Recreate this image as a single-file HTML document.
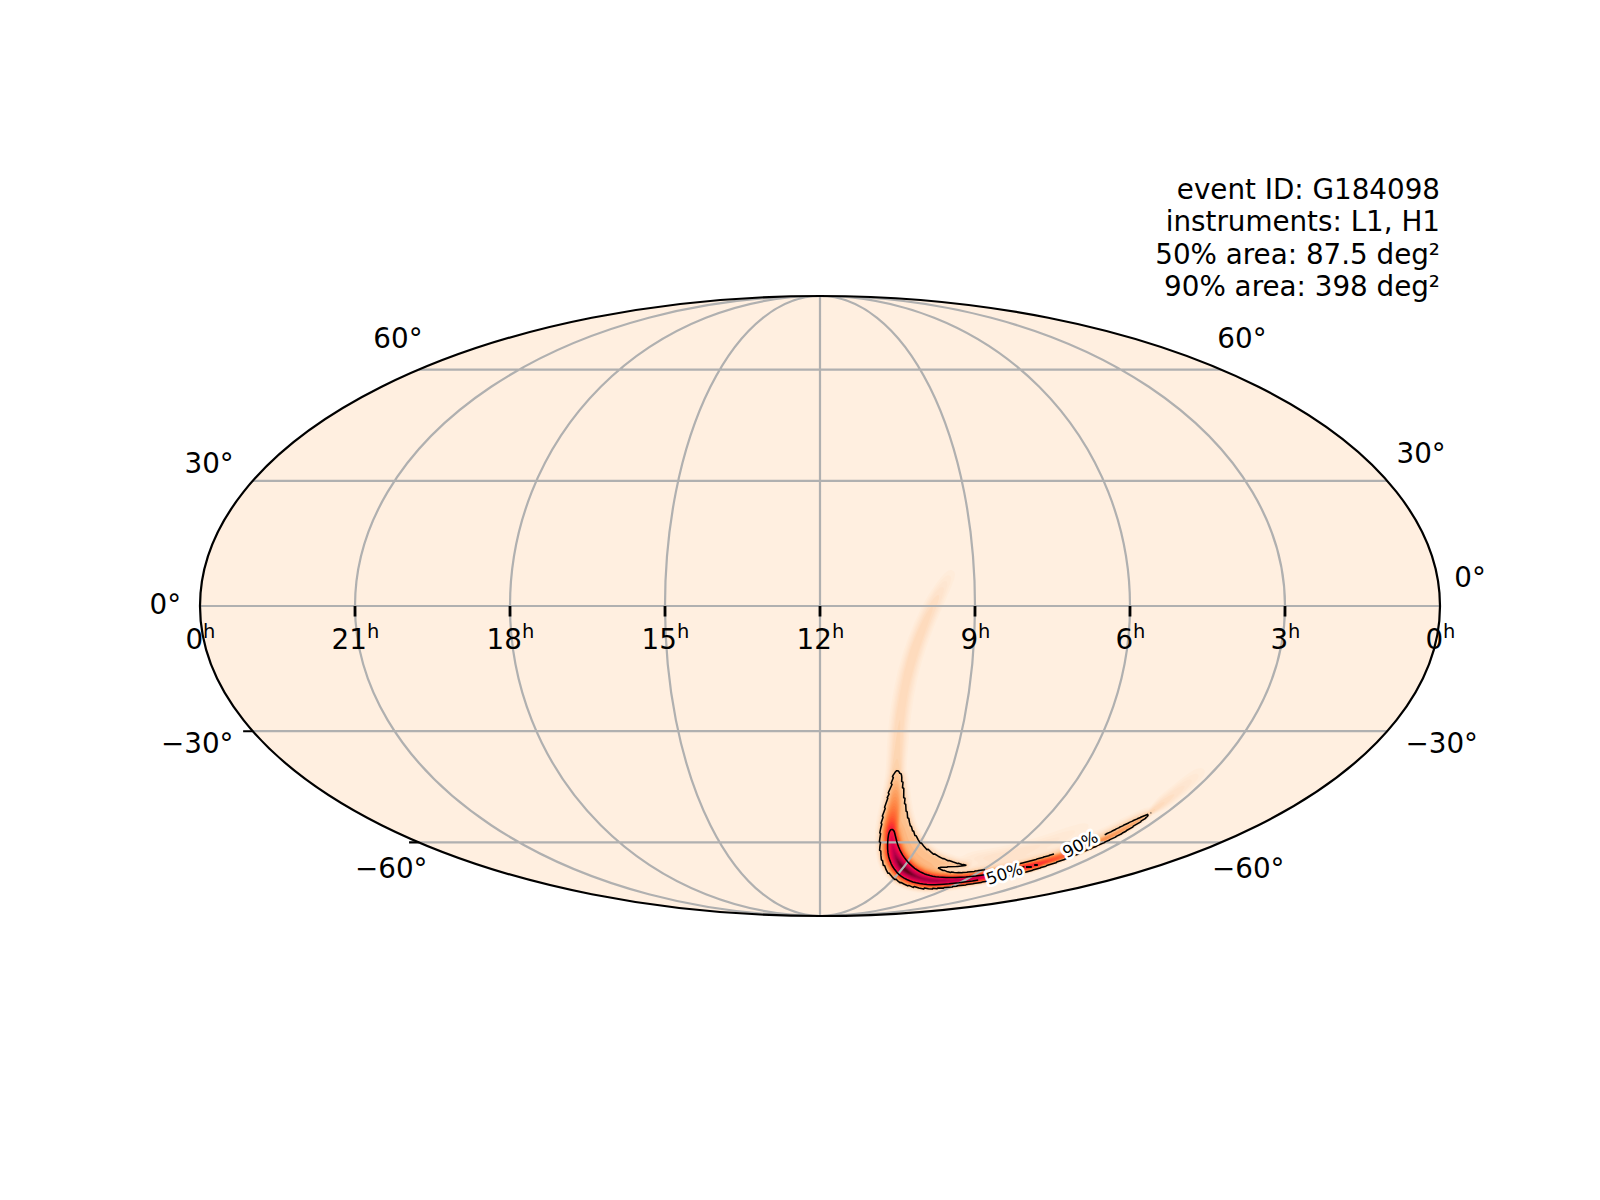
<!DOCTYPE html>
<html><head><meta charset="utf-8"><title>G184098 sky map</title>
<style>
html,body{margin:0;padding:0;background:#fff;}
svg{display:block;font-family:"DejaVu Sans","Liberation Sans",sans-serif;}
</style></head><body>
<svg width="1600" height="1200" viewBox="0 0 1600 1200">
<defs><clipPath id="clip"><ellipse cx="820.0" cy="606.0" rx="620.0" ry="310.0"/></clipPath></defs>
<rect width="1600" height="1200" fill="#fff"/>
<ellipse cx="820.0" cy="606.0" rx="620.0" ry="310.0" fill="#FFEFE0"/>
<g clip-path="url(#clip)"><g fill-rule="evenodd" stroke="none"><path fill="#ffecda" d="M877.1 861.2l-1 -5 -1.1 -9 -0.2 -13 0.5 -8 1.6 -9.4 5.9 -27.8 2.4 -14.2 0.7 -8 1.5 -29 2.1 -21 1.5 -11 2 -12 2.5 -12.6 2.5 -11 4.5 -16 5.5 -16 6.1 -15 7 -15 4 -7.4 4.4 -7.6 7.5 -11 4 -5 3.2 -3.5 2.6 -2.2 2.4 -1.3 1.6 -0.2 1.3 0.2 1.6 1 0.8 1 0.4 1 0.1 1.6 -0.6 4 -3.4 9 -15.8 36 -6 15.4 -3.4 10.1 -3.6 11.2 -3 10.8 -2.4 10.4 -3 15.3 -2.6 17.2 -1.4 14.1 -3 34.2 -0.2 7.3 1.4 4 0.9 4 2.7 22.4 1.6 9 2 8.2 3 8.2 2.6 5 2 3.4 3 4.1 5.4 5.5 6.8 4.6 6.9 3.6 9.7 3.4 4.2 1.2 1.4 0.2 2.9 -0.8 5.1 -2.9 5 -1.5 32.1 -5.6 8.7 -2 15 -4 13.4 -4 27.4 -9.3 10 -2.7 5 -0.5 2 0.4 1 0.5 0.5 0.6 0.3 1 -0.3 1.4 -1.1 2 -2.1 3 -0.3 1 0.4 0.3 1 0.1 3.6 -0.9 6 -2 6.2 -2.5 21.8 -10.8 11.4 -5.4 9.6 -3.9 4.4 -0.9 2 -1.8 6 -7 3 -2.9 22 -17.6 6 -4.4 5.6 -3.4 4 -1.7 3 -0.5 1.4 0.3 1 0.5 1.1 1.1 0.5 1 0.1 2 -0.8 2 -1.6 2.4 -2.4 3 -8.3 8.2 -12 10.1 -12.6 9.4 -3 1.7 -8.7 4.2 -3.6 2 -1.5 1 -2.6 2.7 -2.6 2 -15 10 -10.4 6.1 -16 8 -25 10.9 -12.6 5 -18 6.5 -24.4 7.5 -31.6 8 -17.4 3.5 -24 4.3 -8.6 1.3 -4 0.2 -3.4 0.6 -10 0.1 -3 -0.4 -3.6 -0.2 -9.4 -1.9 -6 -2 -8 -4 -5 -3.6 -3.8 -3.6 -3.4 -4.6 -2.1 -3.4 -1.5 -3z"/><path fill="#ffe9d5" d="M877.6 859.2l-1.1 -6.4 -0.1 -3 -0.5 -3 0 -10.6 0.7 -9.4 1.4 -9 5.2 -24.7 3 -15.9 1 -9 1.8 -31 2.1 -20 1.5 -11 2 -12 2.4 -12.4 2.4 -10.6 4.6 -16.4 4.9 -14.6 6 -15 6.7 -14.4 6.8 -12.6 6.5 -10 4.3 -5.4 3 -3.5 2.6 -2.3 2.4 -1.5 1 -0.2 1 0.2 1 0.6 0.6 0.7 0.2 1 0.1 1.4 -0.8 4 -3.9 10.6 -12.6 29.5 -6.6 16.8 -3.4 10.2 -3.6 11.4 -2.4 9 -2.6 10.2 -3 15.1 -2.4 17 -1.6 13.8 -2.6 32.4 -0.3 11 1.6 4.6 0.6 3 2.7 22.7 1.6 8.6 2 8.1 3 8.6 3 5.9 2 3.4 3 4 5.7 5.7 6.7 4.6 7.6 3.8 10 3.5 4 1.2 2 0.2 2 -0.1 3.6 -0.8 7.5 -3 3.3 -0.9 27 -5.1 11 -2.4 22 -5.9 25.3 -7.7 7.7 -1.7 2.6 -0.2 1.4 0.1 0.7 0.4 0.3 0.4 0 0.6 -0.8 1.4 -1.4 1.6 -6 5 -1.4 1.4 0 0.6 0.6 0.1 2.6 -0.2 7.3 -1.9 10.7 -3.7 9.6 -3.9 5.8 -2.4 33 -16.3 9.6 -3.9 4 -1 2.3 -1.8 6.1 -6.6 3 -2.9 14.6 -11.3 9.4 -6.9 6 -3.6 4 -1.6 2.6 -0.1 1 0.4 0.7 1 0 1.6 -0.8 2 -1.8 2.4 -3.1 3.6 -8.9 8.4 -10.7 8.8 -8 5.9 -13.5 7.3 -1.9 1.5 -2.6 2.7 -3 2.2 -15 10 -9.4 5.5 -16 8 -25 10.9 -12.6 5 -18 6.5 -11 3.5 -13.4 4 -9.6 2.5 -22 5.4 -18 3.5 -23.4 4.1 -6.8 0.7 -2.2 0.5 -4 0.2 -3 0.5 -10 0.2 -3 -0.5 -3.6 -0.1 -9.4 -2 -5.6 -1.8 -8.4 -4.3 -4.6 -3.3 -3.8 -3.8 -2.3 -3 -2.5 -4 -2 -4z"/><path fill="#fee6d1" d="M935.8 589.6l5 -5.7 2 -1.8 1.4 -0.9 1.6 -0.2 1.1 0.8 0.5 1.4 -0.2 2.2 -1.1 4.4 -2.3 6.4 -12 28.9 -6.6 17.2 -6 18.7 -4.4 16.8 -3.6 17 -1.4 9.2 -1.6 11.5 -1.6 16.7 -1.8 24.2 -0.4 8.8 -0.1 5 1.7 4.6 0.6 3 2.2 19 1 6.4 2.1 10.6 1.3 4.8 3 8.1 2.6 5.1 2 3.4 3 4.1 6 6 7.1 4.9 7.3 3.8 5 1.9 5 1.6 5.6 1.5 2.4 0.2 6.6 -0.1 2.9 0.7 0.6 0.4 0.1 0.6 -0.5 4.4 0.2 0.6 0.7 0.1 1.1 -0.1 2.6 -1 0.9 -0.6 0.9 -1 -0.1 -0.4 -0.4 -0.6 -3.8 -2.4 -0.2 -0.6 0.4 -1 1.1 -1 3.5 -1.7 10 -2.5 23 -4.6 40.4 -10.2 6 -0.9 1.6 0.4 0 0.5 -1.1 1.6 -1.9 1.4 -8.5 5.6 -1.2 1 -0.3 0.4 0.4 0.5 2 0.1 2.6 -0.6 17.4 -4.8 18 -6.4 15 -6.2 33 -16.3 9.6 -4 4 -1.1 2.1 -1.6 7.3 -7.4 3.6 -2.9 15.4 -11.4 5 -3.3 4 -2.2 2 -0.8 1.6 -0.3 1 0.1 0.9 0.6 0.2 1 -0.3 1 -1.9 3 -3.6 4 -5.2 5 -6.4 5.6 -7.5 6 -4.2 2.7 -11 6.3 -2 1.4 -2.6 2.8 -2.4 1.9 -15 10 -10.6 6.1 -16 8 -24 10.5 -21.4 8.4 -20 6.7 -13.6 4 -10.4 2.8 -21.6 5.2 -18 3.4 -14 2.4 -14 2.2 -2.4 0.1 -2 0.5 -4 0.1 -3 0.5 -10 0.1 -3 -0.4 -3 -0.1 -6 -1.1 -4 -0.9 -5.6 -1.9 -7 -3.4 -5.4 -3.9 -4 -4 -3.3 -4.4 -3 -5.6 -1.6 -4.4 -1.2 -5.6 -0.6 -4 -0.1 -3 -0.4 -2 -0.1 -10.4 0.6 -7 0.9 -7 7.2 -35.3 2.5 -14.3 2.8 -39.4 1.5 -14.6 1.9 -14 3.1 -17.4 3.5 -16 4 -14.6 4.9 -15 6.1 -15.4 6.9 -15 6.6 -12 3.8 -6z"/><path fill="#fee3cc" d="M935.8 592.1l2 -2.3 2 -1.8 1.4 -0.8 1 -0.2 1 0.5 0.5 0.7 0.1 1.6 -0.3 2 -2.1 7 -11.6 28.5 -6 16.3 -6 18.9 -4.6 17.2 -3.4 17.5 -2.6 18 -1.7 17.6 -1.8 29.4 0 8.6 1.5 4 0.8 3.4 2.7 22.6 1.5 8.4 2.1 8.6 3 8.4 1.9 4.1 3 5.3 3 4.2 6 6 7.2 5 7.9 4 8.4 3 5.5 1.6 2.6 0.5 6 0.4 2 0.5 1 0.7 0.8 1.3 0.2 1.4 -0.4 2.6 0.4 0.5 3.4 -0.5 6.6 -1.5 6 -1.7 2.4 -1.4 0 -0.4 -4.7 -2 -1.3 -1 0 -0.6 0.7 -1 3.1 -1.4 7.1 -2 14.7 -2.9 17 -4.2 5.4 -1 5.6 -0.7 3 0.1 0.3 0.1 0.1 0.6 -1.4 1.4 -3.7 2.6 -8.8 5 -0.4 0.4 0.3 0.2 4.6 -0.6 10.2 -2 17.2 -5 18.5 -6 10.7 -4 14.4 -6.1 34 -16.7 9.4 -3.9 3.6 -1.2 2.2 -1.7 6.8 -6.2 3.4 -3 11 -7.7 6.6 -4 3.4 -1.5 1 -0.1 1 0.2 0.3 0.3 0.1 1 -0.8 1.6 -1.1 1.4 -2.7 3 -3.6 3.6 -10.6 9 -3.7 2.4 -10.9 6.6 -1.4 1.1 -3 3.2 -7 4.9 -10.6 6.9 -9.4 5.5 -16 8.1 -25 10.9 -20.6 8 -21 7.1 -13.4 4 -9.6 2.5 -22.4 5.4 -31 5.6 -14.6 2.2 -2.4 0.1 -2.6 0.5 -4 0.1 -2.4 0.5 -10 0.1 -2.6 -0.5 -3.4 -0.1 -6 -1 -4 -1 -5.6 -1.9 -7 -3.5 -5.2 -3.7 -3.6 -3.6 -3.4 -4.4 -3 -5.6 -1.6 -4.4 -1.3 -5.6 -0.5 -4 -0.1 -3 -0.4 -2 -0.1 -10.4 0.4 -2.6 0.1 -4 1.1 -7.4 1 -5.6 5.2 -23.6 3.7 -20.4 0.8 -8.4 2.3 -32 1.5 -14 1.9 -13.6 3.1 -17.4 3.5 -16 3.9 -14.6 4.6 -14 5.9 -15 7.2 -15.7 6.6 -11.7 3.4 -5.4z"/><path fill="#fedfc4" d="M934.2 597.8l2.6 -2.4 1.4 -0.4 0.6 0.3 0.3 0.9 0 1.6 -0.4 2 -2.9 8.7 -10.3 26.3 -5.5 16 -6 20.4 -2.5 10 -1.9 9 -2.5 15.6 -2 17 -1.1 13.4 -1.3 24 0.1 10.6 1.7 4 0.7 3.4 2.7 22.6 1.6 9 2.1 8.4 3.1 8.6 1.9 4 3.1 5.4 3.1 4.2 6 6 7 4.9 8.4 4.2 7.7 2.7 5.9 1.8 2.4 0.6 5.6 0.6 2.4 0.8 1 0.9 0.6 1.3 -0.2 1.6 -0.9 2 0.2 0.4 1.9 0.2 18 -3.5 18 -2.9 7.4 -1.4 12.7 -2.8 14.9 -4 8.4 -2.5 19.6 -6.3 18 -6.5 14.6 -6.3 22.4 -11.1 11.4 -5.5 12.2 -4.8 2.3 -1.6 10.5 -8.6 4.6 -2.8 4.4 -2.6 2.6 -1 1.5 0 0.1 1 -1.8 2.6 -3.3 3.4 -4.5 4 -4.1 3 -10.5 6.9 -3.4 3.6 -2.6 1.9 -15 10 -11 6.3 -15 7.5 -24.4 10.8 -12.6 4.9 -8.4 3.2 -18 6.2 -16.6 4.9 -15.4 4.1 -16 3.7 -34 5.9 -16 2.1 -4.6 0.2 -3 0.5 -9.4 0.1 -2.6 -0.5 -3.4 -0.1 -6 -1.1 -4 -1 -5 -1.6 -7.6 -3.8 -5 -3.6 -3.4 -3.5 -3.5 -4.6 -2.7 -5 -1.6 -4.4 -1.4 -6 -0.5 -3.6 -0.1 -3 -0.4 -2 -0.1 -10.4 0.5 -2.6 0 -3.4 0.6 -4.6 1.5 -8.4 4.7 -20.5 4.7 -24.5 1 -10.6 2.5 -31 2.8 -22.4 3 -17.3 3.4 -16.8 3.6 -13.7 4.4 -14.3 5.6 -14.5 7 -15.5 5.4 -10.3 3 -4.6z"/><path fill="#fedbbd" d="M929.8 608.7l1.4 -1.5 1 -0.2 0.3 0.2 0.3 1.6 -0.6 2.6 -10.1 28.8 -6.6 20.6 -5 18.4 -3.4 16.6 -2.2 15.4 -1.9 20.6 -1.2 24 0.2 14.4 0.2 1 1.7 4 0.7 3 2.6 22.6 1.1 6.4 1.5 7 3 9.6 1.4 3.4 3 6.1 3.1 4.9 1.9 2.6 6.6 6.4 7 4.8 8 4 5 1.9 9 2.8 8 1.3 1.4 0.5 1 0.6 0.7 1.1 0 1.6 -0.7 1.1 -1.4 1 -1.6 0.5 -3 0.5 -3.4 0 -3.1 0.9 4.5 0.3 2.6 -0.5 4 0 4 -0.5 14.4 -2.7 21.6 -3.3 12.4 -2.5 7.7 -1.8 14.6 -4 8.3 -2.6 27.4 -9.1 17 -6.6 8.6 -3.7 22.4 -11.3 11 -5.2 12 -4.9 9.6 -6.6 3.4 -2.1 2 -0.8 1 0 0.4 0.3 0 0.6 -1 1.4 -4.4 4 -9.4 6.9 -3.6 3.7 -17 11.5 -10.4 6.1 -14 7 -19 8.5 -19.6 8 -27 9.6 -15.4 4.6 -16 4.2 -16 3.7 -5.6 1 -29.4 5 -15.6 1.9 -4 0.1 -3 0.5 -9 0.1 -3 -0.5 -3.4 -0.1 -5.6 -1 -4.4 -1.1 -5 -1.7 -7 -3.5 -5.5 -3.9 -3 -3 -2.4 -3 -2.8 -4.6 -1.5 -3 -2 -6.4 -1.1 -6.6 -0.1 -3 -0.4 -3 0 -9.4 0.4 -2.6 0.1 -3.4 0.5 -4.6 1.6 -9 4.7 -19.4 4.9 -24.6 1.4 -11.4 2.6 -29 2 -17 3.6 -21.3 4.4 -22 2.6 -9.8 2.4 -8.6 3 -9 3 -7.9 4 -9.3 4 -8.3 3.6 -6.5z"/><path fill="#fdd6b3" d="M879.6 855.8l-0.6 -4 -0.1 -3 -0.4 -2 0 -8.6 0.5 -4 0 -3.4 0.4 -2 0.2 -2.6 1.5 -8.4 5 -20.6 5.2 -24.4 5.9 -41.8 1.6 -8.2 1 -3.1 0.4 1.1 0.1 34.4 0.7 15 0.4 1.6 1.4 2.4 1 4 2.7 23 1.5 8.6 1.2 5 1.3 4.4 2.9 8 1.9 4 3.4 6 3 4 6.5 6.6 7 4.8 8.6 4.2 10 3.5 6 1.6 6 1 1.4 0.6 0.6 0.4 0.4 1.3 -0.4 1 -1 0.8 -1 0.4 -4 0.5 -3 0.1 -2.6 0.5 -7.6 0.3 -0.5 0.4 0.6 0.6 2.1 0.5 3 0.2 2 0.4 5 0 2 -0.4 4 -0.1 4.4 -0.6 14.6 -2.5 12.4 -1.8 9 -1.6 19 -4.1 15.6 -4.2 28.4 -9.2 18 -6.6 14.6 -6.2 22.7 -11.4 11.3 -5.3 11.4 -4.8 5.6 -2.9 1.4 -0.4 0.2 0.4 -1.2 1.6 -5 4.2 -2.4 2.9 -2.6 2 -15 10 -5.4 3.3 -5.5 3 -15.1 7.6 -24.4 10.8 -12.6 5 -26 9.3 -17 5.1 -15.4 4.1 -16 3.6 -18 3.3 -23.6 3.5 -7 0.7 -2 0.4 -4.4 0.1 -2.6 0.4 -9 0 -2.4 -0.4 -3.6 -0.1 -6 -1.1 -4.4 -1.1 -5 -1.7 -7.6 -3.8 -4.4 -3.4 -2.8 -2.7 -3.5 -4.6 -3.1 -5.4 -1.7 -5z"/><path fill="#fdd2ab" d="M879.9 855.2l-1 -9 0 -8.4 0.5 -3 0.1 -4 0.6 -4.6 2.6 -13 4 -15.4 2.9 -14 4.6 -19.5 1.6 -4.4 1 -1.2 0.4 0.1 0.6 0.6 0.4 1.2 1.8 10.2 1.8 3 0.8 2.4 0.6 3 2.6 22 1 6.6 1.5 7 2.2 7 2 5.4 2.1 4.6 3.5 6 2.7 3.6 5.1 5.4 3.9 3.1 5.4 3.6 8 4 4.6 1.7 9.4 3 8.4 1.6 1.2 0.4 0.4 0.6 0 0.5 -0.4 0.8 -1.6 0.7 -4 0.4 -3 0.1 -2 0.4 -7.4 0.1 -4.6 0.9 0.5 0.5 1.2 0.6 4.3 1.1 3 0.1 2 0.4 3 0.1 9 -0.6 14 -2.1 4.6 -0.9 12.4 -1.7 21.9 -4.4 21.7 -5.6 10.1 -3 18.4 -6 18.5 -6.7 14.4 -6.2 23 -11.5 17 -8.1 6 -2.1 1 -0.1 0.2 0.3 -3.5 4.4 -3 2.6 -15 10 -5.7 3.3 -13 6.9 -12.4 6.1 -15.6 6.8 -11.4 4.6 -13 4.9 -11.6 4 -6.4 2.5 -16.6 4.9 -15.4 4.1 -16 3.7 -31.6 5.3 -19.4 2.4 -4 0.1 -2.6 0.4 -8.4 0 -3 -0.4 -3.6 -0.1 -3.4 -0.6 -7 -1.7 -4.6 -1.5 -8 -4.1 -4.4 -3.5 -3 -3.1 -3.1 -4 -2.8 -5 -1.9 -5.6z"/><path fill="#fdcba0" d="M880.3 855.2l-0.9 -9 0 -8.4 1.2 -11 1.8 -9 4.9 -20 3.5 -15.6 1.4 -5 2 -5.6 1 -2.2 1 -0.9 0.6 -0.1 0.4 0.3 3.6 5.5 0.9 2.6 0.5 2.4 2.6 22.6 1.6 9 2 8 2 6 3.1 7 4.4 7.4 2.3 3 4.7 5 4.3 3.6 5.6 3.6 8 4 4.4 1.7 9.6 2.9 8 1.7 0.6 0.5 -0.7 0.6 -1.9 0.1 -1.6 0.4 -3.4 0.2 -2 0.4 -7 0 -2.6 0.6 -5 0.2 -0.4 0.5 0.4 0.6 1.2 0.4 7.8 2.1 3 0.1 2 0.4 5 0 3 -0.4 4 -0.1 31 -4.7 14.5 -2.8 15.4 -3.6 13.8 -3.4 8.8 -2.6 20.5 -6.4 17.7 -6.6 14.2 -6 10.1 -4.8 30.6 -15.4 3 -0.9 1 0.1 0.1 0.6 -0.7 1.4 -0.8 1 -4.5 3.6 -13.1 8.7 -10.6 6.1 -12.4 6.4 -8.6 4.1 -18.4 8 -12.6 4.9 -20 7.1 -7 2.8 -16 4.8 -9.4 2.5 -22.6 5.3 -30.4 5.2 -15 1.9 -3 0.1 -1.6 0.4 -4.4 0.1 -2.6 0.4 -7.4 0 -7.6 -0.6 -3.4 -0.6 -6.6 -1.5 -4.4 -1.5 -8.2 -4.2 -4.5 -3.4 -2.9 -3 -3.3 -4.6 -2.8 -5 -1.7 -5z"/><path fill="#fdc696" d="M880.7 855.2l-0.9 -9 0 -8.4 0.5 -3 0.2 -3.6 1.3 -7.4 2.2 -10 7.2 -30.5 2.6 -6.7 2.4 -3.8 1 -0.6 1 0.6 1.1 1.4 1.1 3 1.5 10.6 1.7 14.4 1 6 1.6 7.6 3 9.4 3.3 7.6 3.4 6 2.9 3.8 5 5.5 5 4 5 3.3 8.4 4.2 5 1.9 7.5 2.3 2.3 1 -0.3 0.4 -1.5 0.5 -6.4 0.1 -3 0.6 -4.6 0 -1.8 0.8 -0.3 0.6 0.1 0.4 1.6 1.1 9.4 2.4 5 0.4 5 0 3.6 -0.4 3.4 -0.1 31.6 -4.7 8.4 -1.7 18 -4 14.3 -3.4 11 -3 20.8 -6.6 11.3 -4 12.8 -5 10.4 -4.4 12.5 -6 24.9 -13.1 2 -0.7 1 0 0.4 0.2 -0.1 1 -0.8 1 -5.1 4 -11.8 7.9 -11 6.4 -11.6 6 -9.4 4.6 -14.6 6.3 -14 5.6 -22 7.8 -6.4 2.8 -16.6 4.9 -9.4 2.6 -22.6 5.2 -17.4 3.2 -13.6 2.1 -19.4 2.3 -4 0.1 -2.6 0.4 -7 0 -8 -0.6 -3.4 -0.6 -6.6 -1.6 -4.4 -1.5 -8 -4.1 -4.6 -3.6 -2.6 -2.6 -3.3 -4.6 -2.5 -4.6 -2 -5.4z"/><path fill="#fdc08d" d="M881.1 854.8l-0.8 -8.6 0 -8.4 0.8 -6.6 1.3 -8 2.1 -9.4 7.3 -29.4 1.4 -3.8 1 -1.7 3 -2.7 0.6 0.2 0.4 1.1 1.7 6.3 0.8 4 1 8.4 0.9 12.6 1.5 7.4 3.2 9.6 3.4 8 4.5 7.7 4.2 5.3 3.4 3.3 5 3.9 4.4 2.9 9 4.5 4.3 1.8 0.1 0.6 -0.4 0.1 -5 0.5 -2 0.8 -0.6 0.6 -0.4 1 0.2 1 0.8 1 3 1.2 9 2 5 0.3 5.6 0 3 -0.4 4 -0.1 27.4 -4.1 12.6 -2.3 14.2 -3.2 16.8 -4 12.9 -3.4 11.6 -3.6 12.1 -4 19.9 -7.4 10.4 -4.6 12.7 -6 23.7 -12.4 2.7 -1 0.4 0.1 0.3 0.3 -0.6 1 -1.6 1.6 -6.1 4.4 -9 5.8 -13 7.5 -12.4 6.5 -9.6 4.4 -11.4 5.1 -14 5.5 -22 7.8 -6 2.7 -16.6 4.9 -9.4 2.5 -22.6 5.3 -17.4 3.1 -13.6 2.1 -19.4 2.3 -4 0.1 -2.6 0.4 -7 0 -8 -0.6 -3 -0.5 -7 -1.7 -4.4 -1.6 -8 -4.2 -4.2 -3.4 -2.8 -2.9 -3 -4.1 -2.6 -4.5 -2 -5.6z"/><path fill="#fdb882" d="M881.5 854.2l-0.6 -8.4 0 -8 1.8 -13.6 2.2 -10 6.9 -27 1 -2.8 1 -2 1 -1.3 1 -0.5 1 0.1 0.4 0.4 1 1.5 1 2.8 1 4.8 1 11 0.1 6 -0.2 10 0.2 4 3.3 7 3.8 11 3.4 7 3.4 4.9 3.8 4.1 5.2 4 7.1 4 3 3.6 2.5 2.1 1 0.6 3 1 9 1.7 5.4 0.3 5.6 0 3.4 -0.4 3.6 -0.1 27.4 -4.1 9.6 -1.7 16 -3.4 19.1 -4.6 11.1 -3 11.7 -3.4 10.8 -3.6 11.2 -4 11.6 -4.4 10.3 -4.6 12.6 -5.9 21 -11.2 2.6 -1 1 0.1 -0.7 1 -2.3 2 -7.1 5 -10.9 6.8 -10.6 5.9 -10 5.1 -12.4 5.8 -11 4.7 -13 5.1 -19.6 6.8 -6.4 2.9 -16.6 4.9 -9.4 2.6 -22.6 5.3 -17.4 3.1 -13.6 2.1 -19.4 2.3 -4 0.1 -2.6 0.3 -7 0 -8 -0.6 -3 -0.5 -6.6 -1.7 -4.8 -1.6 -8 -4.3 -4.2 -3.5 -2.4 -2.6 -3.2 -4.4 -2.2 -4.1 -2.2 -5.9z"/><path fill="#fdb279" d="M881.9 853.8l-0.4 -8 0 -8 0.9 -9.6 0.8 -4.4 2.1 -9.6 6.5 -24.2 1 -2.9 1 -2 1 -1.2 1 -0.5 1 0.3 0.4 0.4 1 1.8 1 3.5 0.9 5.8 0.6 10 -0.5 16 0.1 3 0.5 1.7 1.7 3.9 1.7 6.8 2 6.3 1.6 3.6 1.4 2.9 2.7 3.8 2.9 3.6 2.4 2.4 5.6 4.1 4.5 2.5 9.9 4.3 4 1 5.6 0.8 3 0.6 11 0.2 7 -0.5 27.4 -4 12.6 -2.4 13.9 -3 17.2 -4 11.2 -3 11.9 -3.6 10.9 -3.4 11.3 -4 11.6 -4.5 10.4 -4.5 10.6 -4.9 22.3 -11.7 1.7 -0.6 0.6 0.2 -0.7 1 -2.5 2 -10.6 7 -12 7 -13.4 7 -12 5.6 -12 5.1 -17 6.5 -15.3 5.2 -6.1 3 -17 5 -15 3.9 -9.6 2.3 -12.4 2.6 -25.6 4.1 -19.4 2.3 -4 0.1 -2.6 0.4 -7 0 -7.4 -0.7 -3.6 -0.6 -7 -1.7 -4.4 -1.6 -7.6 -4.1 -5.4 -4.8 -3 -3.6 -3 -5 -1.5 -3.6 -1.3 -4z"/><path fill="#fdab70" d="M882.4 853.8l-0.4 -8 0 -8 0.6 -7.6 1 -6.4 2.3 -10 5.9 -21 1 -2.8 1 -2 1 -1.2 1 -0.4 1 0.4 0.4 0.5 1 2.3 0.9 3.6 0.6 5 0.4 8.6 -0.5 15.4 0.2 4 1.6 4.6 1.5 6 1.9 6.1 1.4 3.8 1.6 3 3 4.5 2.8 3.6 2.5 2.4 4.7 3.6 6.3 3.4 9.7 3.5 4.4 1 5.6 0.5 3 0.6 12 0.1 10.4 -1.1 16 -2.3 13.6 -2.3 18.4 -3.9 21.6 -5.1 12.7 -3.4 13.2 -4 11.8 -4 13.3 -5 8.4 -3.5 10 -4.4 12 -5.8 12.2 -6.3 2.2 -1 0.6 0 -1.5 1.4 -3.5 2.6 -11.9 7.4 -11.8 6.6 -13 6.4 -10.9 5 -9.8 4.1 -15 5.7 -15.4 5.2 -6.2 3 -25.4 7.2 -22.6 5.4 -17.4 3.1 -21 3.1 -12.6 1.3 -3.4 0.1 -3 0.3 -7 0 -7 -0.7 -3.6 -0.6 -6.7 -1.6 -5.3 -2 -3 -1.6 -4.1 -2.4 -5.3 -5 -2.5 -3 -2.9 -5 -1.7 -4 -1.2 -3.6z"/><path fill="#fda365" d="M882.8 853.2l-0.3 -16 0.4 -7 0.9 -6 2.7 -11 5.3 -17.6 1 -2.6 1 -1.9 1.4 -1.4 1 0.2 0.6 0.4 1 1.9 0.8 3.6 0.6 4 0.4 7.4 -0.4 16.6 0.2 4 1.1 3 2.7 10.5 2.1 5.5 1.5 3 3.2 5 2.8 3.4 3 2.9 5.4 4.1 4.7 2.6 7.9 2.7 7 1.6 10.4 1.1 10.6 -0.1 10.4 -1 12.6 -1.8 17 -2.9 37 -8.2 13.1 -3.4 11.9 -3.5 11.4 -3.8 11.6 -4.1 9 -3.4 8.4 -3.6 12 -5.4 15 -7.3 0.8 0.1 -5.7 4 -10 6 -11.2 6 -12.2 6 -17.7 7.6 -14.4 5.5 -15.9 5.3 -5.7 2.9 -25.4 7.2 -22.6 5.4 -17.4 3.1 -13.6 2 -14.4 1.9 -12.6 0.8 -6 0 -8 -0.7 -5.4 -1.1 -4 -1.1 -4.6 -1.7 -3.4 -1.7 -4.7 -3 -5.3 -5 -2.3 -3 -2.9 -5 -1.6 -4 -1.1 -3.4z"/><path fill="#fd9c5d" d="M883.2 853.2l-0.3 -17.4 0.4 -5.6 0.8 -5.4 2.7 -10.8 4.4 -14.4 2 -4.6 1 -1.3 1 -0.5 1 0.3 1 1.6 1 3.1 0.6 4.2 0.3 6.8 -0.3 15 0.2 4 3.8 13.8 1.9 5.2 1.5 3.1 3.3 4.9 2.8 3.6 2.9 2.8 5.6 4.2 5 2.6 8 2.7 7 1.4 10.4 1 10.6 -0.2 11 -1.1 12 -1.6 17 -3 30.4 -6.6 22 -5.7 11.6 -3.4 10.4 -3.4 21.6 -7.9 25 -10.9 0.5 0.1 -3.6 2.4 -9.5 5.6 -10.6 5.4 -10.4 5 -10.4 4.6 -10.1 4 -11.5 4.1 -12.7 4.3 -5.3 2.7 -25.9 7.3 -22.1 5.3 -17.9 3.3 -13.1 1.9 -14.4 1.8 -12.6 0.9 -6 -0.1 -7.4 -0.7 -6 -1.2 -4.3 -1.2 -4 -1.4 -3.7 -1.9 -4.6 -3 -5 -4.8 -2.5 -3.3 -2.8 -5 -1.5 -3.6 -1.1 -3.4z"/><path fill="#fd9454" d="M883.6 852.8l-0.3 -17.6 0.4 -5.4 0.8 -5 2.7 -10.9 4 -11.9 2 -4.1 1 -1 1 -0.2 1 0.6 1 2 1 5.3 0.4 6.2 -0.1 14.4 0.2 4 3.5 13.1 2 5.3 1.6 3 3.3 5.2 2.4 3 3.3 3.2 3.4 2.7 3 2 4.6 2.4 7 2.3 4 0.9 4 0.6 6 0.4 3.4 0.5 11.6 -0.2 6.4 -0.5 19.6 -2.7 8 -1.4 14.4 -2.9 28 -6.3 23 -6.3 20 -6.5 16.6 -6 14.2 -5.8 1.2 -0.2 0.1 0.2 -4 2.6 -8.4 4.4 -9 4.6 -7.7 3.4 -18.6 7.6 -21.6 7.4 -4.8 2.6 -26 7.3 -22 5.3 -18 3.2 -13 2 -20 2.2 -12 0.4 -9 -0.9 -5 -1.1 -5 -1.3 -4 -1.6 -3.9 -2.1 -4.1 -2.8 -4.8 -4.6 -2.3 -3 -2.5 -4.6 -1.8 -4 -1.1 -3.4z"/><path fill="#fe8c4c" d="M883.6 835.8l0.3 -5.6 0.7 -4.4 1.6 -6.8 2 -6.7 2 -5.6 2 -4.4 1.6 -1.9 1 -0.4 0.4 0.1 1 1 0.6 1 1 4.8 0.3 5.9 0 13.4 0.3 3.6 1.8 7.4 2.6 8 2.5 5.6 3.5 5.3 2.5 3.1 3.5 3.4 5.4 4 5 2.8 7.6 2.5 3.4 0.7 4.6 0.7 5.4 0.3 4 0.5 12 -0.3 3.6 -0.4 3 -0.1 16 -2.1 17 -3.1 27.4 -5.9 15.6 -3.8 16 -4.4 15.4 -4.9 25.5 -8.9 1.1 -0.1 0.2 0.1 -5.9 3.6 -8 4 -8.9 4 -11.1 4.4 -12.3 4.6 -13.3 4.4 -4.7 2.5 -25.2 7.1 -22.4 5.5 -18 3.2 -13 1.9 -14.4 1.8 -3.6 0.1 -2.4 0.4 -11.6 0.3 -8.4 -0.9 -3 -0.5 -5 -1.3 -5.6 -1.9 -4 -2 -3.4 -2.2 -6.3 -6 -1.9 -2.4 -2.6 -4.6 -1.8 -4 -1.1 -3.4 -1.2 -6z"/><path fill="#fe8545" d="M883.9 834.8l0.4 -5 0.8 -4.6 1.7 -6.4 2 -6.3 2 -5 1.4 -2.7 1.6 -1.5 1 -0.1 0.4 0.3 1.2 1.7 0.8 3.9 0.5 5.7 0.2 14.4 1.9 8 2 6.5 1.5 4.1 1.9 3.8 3.5 5.2 3.5 4 4.6 4 3.6 2.4 4.8 2.7 7.6 2.4 8 1.4 6 0.2 3 0.5 5.4 -0.3 7.6 0 10.4 -1.1 15 -2.1 17 -3.3 27 -5.9 15 -3.7 19.6 -5.6 25.1 -8.2 2.9 -0.6 0.7 0.2 -2.3 1.4 -3.8 2 -12.1 5.6 -15.4 6 -18.8 6.4 -3.9 2.1 -28.3 7.9 -19.7 4.9 -18 3.3 -13 1.9 -14.4 1.7 -3.6 0.1 -2.4 0.4 -11.6 0.2 -6 -0.5 -5.4 -0.9 -5 -1.3 -5.6 -1.9 -4 -2 -3.4 -2.3 -6 -5.7 -2.1 -2.9 -2.6 -4.4 -2.7 -7 -1.1 -6z"/><path fill="#fe7d3f" d="M884.3 833.8l0.4 -4.6 0.8 -4 1.7 -6.6 1.6 -4.4 1.4 -3.7 1.6 -2.7 1.4 -1.5 1 -0.2 0.6 0.2 1.1 1.5 0.9 3.3 0.4 5.1 0.4 13 1.8 8 1.8 6.2 1.9 4.8 1.8 3.6 3.3 5 4 4.6 4.5 3.8 3.5 2.4 5 2.6 7.6 2.5 8 1.3 6 0.2 2.4 0.5 3 0 3 -0.3 7.6 0 3 -0.5 3 -0.1 16 -2 11.3 -2 33.1 -7.2 13 -3.1 20.6 -5.5 23.3 -7.2 2.7 -0.7 0.9 0.1 -1.4 1 -3.9 2 -10.2 4.6 -14.1 5.4 -17.5 6 -3.7 2 -25.2 7 -15.2 4 -7.3 1.7 -12 2.3 -19 2.9 -14.4 1.7 -3.6 0.1 -2.4 0.4 -12 0.2 -5.6 -0.6 -5.4 -0.9 -4.6 -1.1 -6 -2.1 -3.9 -2 -3.5 -2.3 -5.9 -5.7 -1.9 -2.6 -2.5 -4.4 -1.7 -4 -1.1 -3.6 -1.1 -6 -0.4 -14.4z"/><path fill="#fe763c" d="M884.6 833.2l0.5 -4.4 0.9 -4 1.8 -6.2 1.4 -4 1.6 -3.1 1.4 -2.1 1.6 -0.6 1 0.4 1 1.8 0.6 2.8 0.4 4 0.5 12 1.7 7.4 2.2 7.3 1.5 3.7 2.1 4 3 4.5 2.4 3.1 3.6 3.5 3 2.4 3 2 4.5 2.5 8.5 2.8 8 1.3 5.4 0.2 3.6 0.5 3 0 2.4 -0.3 8 -0.1 2.6 -0.4 3 -0.1 5 -0.5 14.4 -2.1 13 -2.6 32 -7 21.6 -5.4 27.4 -7.8 1.3 0.1 -1.4 1 -3 1.4 -9.2 4 -13.1 5 -14.6 5 -3.4 1.8 -40.6 11.1 -7 1.7 -12 2.3 -19 2.8 -14.4 1.7 -3.6 0.1 -2.4 0.4 -12 0.1 -5.6 -0.5 -5.4 -1 -5 -1.2 -5.6 -2.1 -3.4 -1.7 -3.8 -2.5 -5.8 -5.5 -2 -2.7 -2.6 -4.8 -1.5 -3.4 -1.1 -3.6 -1.1 -6 -0.1 -9 -0.3 -5.4z"/><path fill="#ff6d37" d="M885 832.8l0.5 -4 0.7 -3.6 1.6 -5 1.4 -4 1.6 -2.9 1 -1.2 1 -0.7 1 0 0.4 0.2 1 1.5 0.7 2.1 0.4 3.6 0.8 11.4 2.7 10.8 1.4 4.2 1.6 3.9 1.6 3.1 3.3 5 2.5 3 3.6 3.6 5.4 4 5 2.8 8.6 2.8 7.4 1.2 6 0.2 3.6 0.5 3 0 2.4 -0.4 8 0 2.6 -0.4 3 -0.1 5 -0.6 14.4 -2.1 8 -1.5 33.6 -7.2 20.4 -5 25.6 -6.8 1.2 0 -2.3 1.6 -8 3.4 -10.4 4 -14.1 4.8 -3.4 1.8 -28.6 7.9 -19.4 5 -18 3.3 -20.9 2.8 -6.1 0.6 -4 0.1 -2.6 0.4 -11.4 0.1 -5 -0.5 -6 -1.1 -4.6 -1.1 -5.4 -1.9 -4 -2 -3.6 -2.3 -5.9 -5.9 -1.9 -2.4 -2.5 -4.6 -1.5 -3.4 -1.1 -3.6 -1.1 -6 -0.1 -8.4 -0.3 -6z"/><path fill="#ff6633" d="M885.4 831.8l1.4 -6.9 2.4 -7 1.6 -2.7 1 -1.1 1 -0.4 1 0.2 1 1.2 0.6 2.1 0.8 5.6 0.5 7.4 2.8 11 2.7 7.6 2 3.8 3.1 4.6 2.5 3.1 4 3.9 5.4 4 5 2.8 8.6 2.7 7.4 1.2 6 0.2 3.6 0.5 3 0 2.4 -0.4 8 -0.1 2.6 -0.4 3 0 16.4 -2.2 11 -2 30 -6.5 19 -4.5 21.1 -5.3 2.9 -0.5 1.4 0.1 -2.6 1.4 -5.8 2.6 -7.9 3 -12.5 4.2 -3 1.5 -29 8.1 -19 4.8 -18 3.4 -12.6 1.7 -14 1.6 -4.4 0.1 -2.6 0.5 -11 0 -2.4 -0.4 -3 -0.1 -6 -1 -4.6 -1.2 -5.4 -1.9 -3.6 -1.8 -4.4 -3 -4.7 -4.5 -2.3 -3 -2.6 -4.6 -1.6 -4 -1 -3 -1 -5 -0.5 -15.4z"/><path fill="#ff5d31" d="M885.9 831.2l0.4 -3 0.9 -3.5 2.6 -6.1 1 -1.5 1 -0.9 1 -0.2 1 0.4 0.8 1.4 0.6 2 0.6 4 0.6 6.4 2.9 11.6 2.8 7.4 1.8 3.6 3 4.4 2.4 3 3.9 4 3 2.4 3.4 2.2 5.2 2.7 7.4 2.4 8 1.3 6 0.2 2.6 0.4 4 0 2.4 -0.3 8 -0.1 2.6 -0.4 3.4 -0.1 16 -2.1 11 -2.1 29.6 -6.4 34.7 -8.1 3.9 -0.4 -0.3 0.4 -5.4 2.6 -17.5 6.2 -2.4 1.3 -40 10.9 -13 3 -17 3 -22.6 2.7 -4.4 0.1 -2.6 0.4 -11 0.1 -2.4 -0.4 -3 -0.2 -6 -1 -4.6 -1.1 -5.4 -2 -3.1 -1.6 -4.6 -3 -4.9 -4.7 -2.1 -2.7 -2.5 -4.6 -1.7 -4 -1 -3 -1.1 -5.4 -0.4 -15z"/><path fill="#ff532f" d="M886.2 831.1l1 -4.8 2 -5.1 1 -1.6 1 -1.1 1 -0.4 1 0.3 1 1.3 0.6 1.5 0.6 3.6 0.8 6 1.6 7 2.4 7.4 1.4 3.6 1.7 3.4 3.6 5.6 2.5 3 3.5 3.4 3.1 2.6 3.2 2.1 5.6 3 7.4 2.3 8 1.3 6 0.1 2.6 0.5 3.4 0 3 -0.4 8.6 -0.1 14.4 -1.5 7 -1.1 8.6 -1.5 60.2 -13.3 3.2 -0.5 1.7 0.1 -1.5 1 -3.4 1.4 -12.2 4.4 -3.6 1.5 -39.4 10.9 -13 3 -17 2.9 -12.6 1.7 -10 1 -4.4 0.1 -2.6 0.4 -10.4 0.1 -9 -1 -6.6 -1.5 -3 -0.9 -3.4 -1.3 -3.6 -1.8 -4.2 -2.9 -4.6 -4.6 -2.2 -3 -2.4 -4.2 -1.6 -3.8 -1 -3 -1.1 -5.4 -0.4 -15.6z"/><path fill="#ff4a2d" d="M886.8 830.5l1 -4.3 1 -2.5 1 -1.7 1 -1.2 1 -0.6 1 0.2 0.4 0.3 1 1.5 0.6 1.8 1 6.8 1.7 7 2.5 8 1.2 3 2 4 3.3 5 2.5 3 3.8 3.7 3 2.5 3.4 2.3 5.6 2.9 7.4 2.3 8 1.3 6 0.1 2.6 0.5 4 0 2.4 -0.4 8.6 -0.1 14.4 -1.6 7 -1 8.6 -1.6 53.1 -11.5 5.9 -0.9 0.4 0.1 0.2 0.4 -4.3 2 -12.3 4.5 -38.6 10.5 -7.8 2 -12.2 2.4 -22 3.2 -10 1 -4.4 0.1 -2.6 0.4 -11 0 -8.4 -1 -6.6 -1.5 -3 -0.9 -3.4 -1.4 -3.7 -1.9 -3.3 -2.1 -5 -4.9 -2 -2.6 -1.8 -2.8 -1.3 -2.6 -1.9 -5.2 -1.4 -6.2 -0.3 -15.6z"/><path fill="#fd3e2f" d="M887.2 830.2l1 -3.7 1.6 -2.9 1 -1 1 -0.5 1 0.3 0.4 0.4 1.1 2 1 5.4 1.9 7.6 2.4 8 3.2 7 3.4 5.1 2.6 3.1 3.7 3.8 3.3 2.6 3 2 5.4 3 8.6 2.6 7 1 6.4 0.2 3.6 0.5 3.4 0 2.6 -0.4 7.4 -0.1 10.6 -1.1 11.4 -1.5 5.6 -1.1 50.9 -10.7 5.5 -0.9 1 0.1 0.2 0.2 -3 1.6 -6.6 2.6 -9.8 2.8 -30.8 8.3 -8 2 -12 2.4 -22.4 3.3 -16.6 1.4 -11 0 -8.4 -1 -6.6 -1.5 -2.8 -0.9 -3.6 -1.4 -3.6 -1.8 -3.4 -2.4 -4.6 -4.3 -2.3 -3.1 -1.7 -2.7 -1.3 -2.7 -1.7 -4.3 -1.5 -7.3 -0.2 -15 0.2 -4z"/><path fill="#fb3433" d="M887.5 831.2l0.9 -3.4 1.4 -2.6 1.4 -1.2 1 0 0.6 0.3 0.7 0.9 0.6 1.6 2.8 11.4 2.5 8 3 6.6 3.6 5.4 2.5 3 3.7 3.8 3 2.5 3 2 5.6 3 8.4 2.7 7.6 1.2 6 0.1 3.4 0.5 4 0 2.6 -0.4 7.4 -0.1 15 -1.6 10 -1.6 50.9 -10.5 4.1 -0.5 0.4 0.5 -5.6 2.4 -4.9 1.6 -34.9 9.4 -12.4 3 -13.6 2.5 -19.4 2.6 -14 1 -10.6 0 -2 -0.4 -3 -0.1 -6 -1 -4.1 -1 -5.6 -2 -3.7 -1.9 -3.4 -2.1 -5.2 -5 -2 -2.7 -2 -3.3 -1 -2 -2 -5.4 -1.2 -6.2 -0.1 -15z"/><path fill="#f92937" d="M887.9 832.2l0.9 -3.3 1 -2 0.4 -0.6 1 -0.6 1 0.2 0.6 0.3 1 1.9 1.4 4.7 2.2 9 2.5 7 2.6 5 3.3 4.8 2.1 2.6 4.3 4.4 3 2.4 3 2 5.6 3 8.4 2.7 7.6 1.1 6 0.1 3.4 0.5 4 0 2.6 -0.5 7.4 -0.1 6.6 -0.6 12 -1.5 7 -1.1 45.2 -9.4 3.2 -0.5 1.8 0.1 -0.2 0.4 -0.9 0.6 -7.7 2.4 -32 8.6 -12.4 3.1 -13.6 2.4 -19.4 2.7 -14 1 -10 0 -2.6 -0.4 -3 -0.2 -6 -1 -4.4 -1.2 -5.4 -2 -3.2 -1.5 -3.4 -2.2 -5.4 -5.3 -1.9 -2.4 -1.7 -3 -1.1 -2 -1.9 -5.3 -1.3 -6.3 -0.2 -14.4z"/><path fill="#f51c3d" d="M889.2 830.2l0.6 -1.3 1 -1.1 1 -0.2 0.8 0.6 0.6 2 1 2.2 2.6 9.8 2.6 7 2.6 5 3.1 4.6 2.5 3 4.5 4.4 2.7 2.2 3.4 2.3 5.6 2.9 8 2.5 7.4 1.1 6.6 0.1 2.4 0.4 5 0 2.6 -0.4 8.4 -0.2 10 -1 11.6 -1.6 34.2 -6.7 8.8 -1.4 0.2 0.4 -8.1 2.4 -31.1 8.4 -12 2.5 -17.6 2.7 -7.4 0.8 -7 0.6 -4.6 0.1 -3 0.3 -8.4 0 -6.6 -0.6 -9.4 -2 -6.6 -2.4 -3 -1.5 -3.5 -2.3 -5 -5 -1.8 -2.6 -2.5 -4.4 -2.2 -5.8 -1.2 -6.2 0.1 -13.6 0.6 -6z"/><path fill="#f11144" d="M890 835.8l1.2 -2.6 0.6 -0.4 0.4 0.1 0.6 0.6 1.2 3.3 1.8 6.2 2.6 6.8 2.4 4.4 3.4 4.9 2.3 2.7 4.7 4.7 3.4 2.7 5.6 3.5 2.6 1.3 9 2.7 3.4 0.5 2 0.1 2 0.4 6.6 0 2.4 0.5 5 0 2.6 -0.5 8.4 -0.2 10.6 -1 11.4 -1.5 14.6 -2.6 4.4 -0.4 0.4 0.2 -2.4 1 -6.5 2 -6.9 1.9 -9.6 2.1 -12.4 2.1 -17 2 -5.6 0.5 -4.4 0 -2.6 0.4 -9 -0.1 -8.4 -1.2 -7.6 -1.8 -6.1 -2.3 -2.9 -1.5 -3 -2.1 -4.6 -4.4 -1.8 -2.6 -1.8 -3 -1.1 -2.4 -1.6 -4.6 -1.2 -6.4 0.1 -12z"/><path fill="#e9064b" d="M891.2 836.7l0.6 -0.7 0.4 0.3 0.6 1 2.4 7.8 2.2 5.1 2.6 4.6 3.7 5 2.5 2.9 4.6 4.4 3.2 2.7 3.2 2.1 5.6 2.9 8.4 2.4 8 1 6 0 2.6 0.4 6 0 2.4 -0.5 8 -0.2 3 -0.4 3 -0.1 23 -2.8 1.3 0.2 -0.6 0.4 -8.8 2.6 -7.9 1.6 -13.4 2.1 -18.6 1.8 -4.4 0 -3 0.4 -8.6 -0.2 -8.4 -1.3 -9.6 -2.6 -6 -2.6 -4 -2.8 -4 -4 -1.8 -2.4 -1.9 -3.6 -1.5 -4 -0.9 -3 -0.9 -6 0.3 -11.4z"/><path fill="#dd034c" d="M891.8 840.7l0.4 -0.2 0.6 0.8 2.4 6.5 1.5 3 2.1 3.5 4 5.5 2.6 3 5 5 3.4 2.6 3.4 2.3 5.6 2.8 8.4 2.3 7.6 0.8 6.4 0 2.6 0.4 5.4 0 3.6 -0.5 8 -0.2 2.4 -0.4 3 0 10.6 -1.3 2.4 0 1.1 -0.4 0.7 0 0.6 0.6 -0.9 0.4 -6.9 1.7 -10 1.7 -8.6 1 -7 0.4 -2 0.5 -3 0 -2 0.4 -4.4 0 -3 0.4 -8 -0.3 -2.6 -0.5 -3 -0.2 -6 -1.3 -7 -2.1 -5.4 -2.4 -4.2 -2.7 -3.9 -4 -1.8 -2.6 -1.6 -3 -0.8 -2 -1.4 -4.4 -1 -6.6 0.3 -7.4z"/><path fill="#d0014e" d="M892.4 846.2l0.4 -0.7 0.4 0.4 2.5 4.9 2.7 4.4 3.9 5 2.9 3.3 5 4.9 3 2.4 3.6 2.3 5.4 2.8 9 2.3 7.6 0.9 6 -0.1 3 0.4 6 0.1 3 -0.6 8 -0.1 2.4 -0.5 3 0.1 3 -0.4 2 0.2 2 -0.6 1.5 0.2 -1.5 0.6 -2 -0.1 -0.7 0.5 -3.3 0.7 -8 1.2 -11 0.9 -2 0.4 -3 0.1 -2 0.4 -5 0 -2.4 0.3 -8 -0.2 -2.6 -0.6 -3 -0.3 -6 -1.4 -6.4 -1.9 -5.6 -2.3 -4 -2.6 -3.7 -3.7 -2.1 -3 -2.2 -4.6 -1.5 -5.4 -0.7 -6z"/><path fill="#c3004b" d="M893.2 849.2l0.6 0 4.1 6.6 4.1 5 7.8 7.9 3.1 2.5 2.9 2 5.9 3 9.1 2.4 8 0.9 6 -0.1 2.4 0.4 5.6 0.3 4 -0.8 7 -0.1 0.7 0.6 -1.1 0.4 -2.2 0.1 -2 0.5 -6.4 0.2 -2.6 0.6 -3 0.1 -2 0.4 -5 0 -2.4 0.3 -7.6 -0.3 -9 -1.6 -7.4 -2 -5 -1.8 -3 -1.6 -3.6 -2.4 -3.4 -3.5 -1.7 -2.4 -2.1 -4 -1.2 -4 -0.5 -2.6 -0.4 -5zM966 879.2l1.2 -0.4 0.6 0 0.6 0.4 -1.2 0.5 -0.4 0z"/><path fill="#b80048" d="M894 852.8l0.2 -0.5 0.6 0.3 6.4 8.2 8.4 8.4 4.6 3.7 4.6 2.6 4 1.6 8.4 2 7.6 0.8 6 -0.1 2.4 0.6 2.6 0.1 0.8 0.3 -0.8 0.2 -2.6 0.1 -2 0.5 -5 0 -2.4 0.4 -8 -0.3 -2.6 -0.7 -3 -0.3 -5.4 -1.4 -6.6 -1.9 -4.4 -1.8 -2 -1.1 -3.6 -2.5 -3 -3.1 -1.8 -2.7 -1.9 -4 -1 -3.4 -0.5 -3z"/><path fill="#a90042" d="M894.9 855.2l0.3 -0.3 0.6 0.3 5.4 6.4 8.1 8.2 4.6 3.4 4.3 2.7 4 1.7 8.6 2 3.4 0.4 2.6 0 2.4 0.6 5 -0.2 1.4 0.4 -1.4 0.3 -4.4 -0.2 -2.6 0.6 -7.4 -0.3 -2.6 -0.7 -2.8 -0.3 -5.6 -1.4 -6.6 -1.9 -4.4 -1.9 -5.1 -3.2 -2.9 -3 -1.7 -2.6 -2.3 -5 -0.9 -4z"/><path fill="#9a003a" d="M895.8 857.4l0.4 -0.2 1 0.7 6.3 6.9 5.3 5.1 3.4 2.8 6 3.9 4.6 2 3.1 0.6 -0.1 0.3 -1 0.1 -1.6 -0.6 -4.1 -0.8 -6.9 -1.9 -4.4 -1.8 -4 -2.6 -3.4 -3.1 -2 -3 -1.9 -4 -0.7 -3zM929 880.2l0.2 -0.1 1 0.1z"/><path fill="#8a0031" d="M896.8 859.2l0.4 -0.1 1 0.8 4.6 4.9 6 5.7 7.2 5.7 -0.8 0.2 -1.2 -0.2 -4.5 -1.4 -2.7 -1.4 -3.6 -2.5 -2.5 -2.7 -1.9 -2.8 -1.7 -3.6 -0.3 -1.6z"/><path fill="#750024" d="M897.8 861.2l0.4 -0.2 9.6 9.3 2.4 2 2.6 2.5 -1 0.1 -2.6 -0.8 -2.4 -1.3 -3 -2.1 -2.6 -2.5 -1.6 -2.4 -1.4 -3z"/><path fill="#630018" d="M899.5 863.8l0.3 -0.3 1 0.7 8.8 8.6 0.3 0.4 -0.7 0.1 -1.2 -0.5 -4.2 -2.9 -2.6 -2.7 -1.4 -2.4z"/></g></g>
<path d="M418.78 842.34H1221.22M252.84 731.23H1387.16M200.00 606.00H1440.00M252.84 480.77H1387.16M418.78 369.66H1221.22M820.0 296.0A155 310.0 0 0 0 820.0 916.0A155 310.0 0 0 0 820.0 296.0M820.0 296.0A310 310.0 0 0 0 820.0 916.0A310 310.0 0 0 0 820.0 296.0M820.0 296.0A465 310.0 0 0 0 820.0 916.0A465 310.0 0 0 0 820.0 296.0M820.0 296.0V916.0" fill="none" stroke="#b0b0b0" stroke-width="2.22" clip-path="url(#clip)"/>
<path d="M1148.2 814.4L1148 815.4L1147.5 816.3L1146.8 817L1145.9 817.7L1145.6 818.3L1141.3 820.9L1140.7 821.8L1133.3 826.2L1132.7 827.1L1126.5 830.5L1125.9 831.3L1122.4 833L1121.7 833.7L1116.3 836.4L1115.5 837.1L1109.9 839.6L1109.1 840.3L1105.2 841.9L1104.4 842.6L1096.9 845.8L1096.1 846.4L1092.5 847.7L1091.7 848.4L1086.4 850.3L1085.6 850.9L1079.4 853.3L1078.6 853.9L1072.8 856L1072 856.7L1065.3 858.9L1064.5 859.6L1056.7 862.1L1055.9 862.8L1046.7 865.6L1045.8 866.2L1041 867.5L1040.1 868L1032.8 870.1L1031.9 870.6L1024.3 872.5L1023.6 873L1022.3 873.3M988.8 881.1L982 882.1L981.1 882.6L973.9 883.4L973 883.8L966.8 884.4L965.9 884.9L957.5 885.7L956.6 886.2L953 886.4L952.4 886.9L944.4 887.4L944.2 887.5L943.7 888L943.5 888.1L937.9 888.1L937.7 888.1L937.1 888.7L936.9 888.8L933.1 888.2L932.9 888.2L932.3 889L932.1 889.1L928.5 888.7L924.5 888L924.3 888.1L923.7 889L923.5 889.1L918.9 888L914.3 886.6L914.1 886.7L913.3 887.4L913.1 887.4L908.9 885.4L908.7 885.4L907.9 885.9L907.7 885.8L904.4 884.3L901.1 882.5L900.9 882.4L900.1 882.8L899.9 882.7L898 881.1L896.1 879.3L895.9 879.2L895 879.5L894.8 879.5L893.3 878.1L891.9 876.6L890.6 875.1L889.3 873.3L889.1 873.2L888.1 873.3L887.9 873.2L886.1 869.7L884.7 865.8L884.5 865.6L883.5 865.4L883.3 865.3L882.9 863.1L882.6 860.7L882.5 860.5L881.5 860.1L881.4 859.8L881 855.9L880.8 851.1L880.7 850.9L879.7 850.4L879.6 850.2L879.9 846.6L880.5 842.6L880.4 842.4L879.4 841.8L879.4 841.6L879.9 838L880.6 833.8L880.6 833.6L879.8 833L879.8 832.8L880.6 828.8L881.8 824.2L881.8 824L881.1 823.2L881.1 823L883.1 817.3L883.1 817.1L882.4 816.3L882.4 816.1L885.2 808.4L885.2 808.2L884.6 807.4L884.6 807.2L887.7 798.5L887.8 798.3L887.2 797.5L887.3 797.3L889.1 794.1L889.1 793.9L888.3 793L888.3 792.8L892 784.5L892 784.3L891.1 783.5L891.1 783.3L893.3 777.8L893.3 777.6L892.5 776.8L892.5 776.6L893.2 775.1L894.9 772.6L896.5 770.8L896.9 770.7L897.7 770.8L898.6 771.3L899.2 772.1L899.8 773.3L900.8 773.5L900.9 773.6L901.5 775L901.8 777.4L901.7 781.5L901.8 781.6L903 782.1L903 782.3L902.5 787.6L902.6 787.8L903.7 788.3L903.8 788.5L903.7 797.5L903.8 797.7L904.9 798.2L905 798.4L904.5 803.5L904.6 803.7L905.6 804.1L905.7 804.3L906.1 811.2L906.2 811.3L907.1 811.8L907.2 812L907.6 817.8L907.7 818L908.7 818.3L908.8 818.5L909.5 822.5L910.3 825.8L910.4 826L911.3 826.3L911.4 826.5L912.5 830.8L912.6 830.9L913.6 831.1L913.7 831.3L914.9 835.5L915 835.6L916 835.7L916.2 835.9L918.1 839.6L920.1 842.9L920.4 843.1L921.4 843L921.6 843.2L924.1 846.6L926.8 849.6L927 849.7L928 849.3L928.2 849.4L930.8 851.9L933.4 854.1L933.6 854.2L934.5 853.9L934.7 854L938.2 856.2L941.8 858.1L943.2 858.8L944 858.6L948.1 860.7L948.3 860.7L949 860.5L953.3 862.1L957.5 863.5L957.9 863.6L958.5 863.3L962.5 864.7L963.4 864.6L966.4 865.3M966.5 865.3L963.5 865.8L957.4 866.4L956.4 866.6L947.8 866.8L946.8 867.2L941 867.3L940 867.5L939.4 867.7L938 867.8M937.9 867.9L941.5 869.7L943.1 870.5L944.2 870.4L946.6 871.4L948.9 872L950.5 872.4L951.6 872.1L954.3 872.5L957.7 872.8L958.3 872.5L961.9 872.7L962.9 872.4L966.9 872.3L967.9 872L974.3 871.4L975 871.1L977.6 870.8L978.6 870.5L984.7 869.7L985.1 869.6M1019.2 863.7L1022.4 863.1L1023.3 862.7L1028.2 861.6L1029.1 861.2L1035.9 859.5L1036.8 859.1L1042.8 857.5L1043.7 857L1048.7 855.7L1049.6 855.2L1054 853.9M1104.7 834.7L1106.3 834L1107 833.5L1111.4 831.6L1112.2 831L1115.5 829.5L1116.3 828.9L1118.7 827.9L1119.5 827.3L1122.7 825.9L1123.5 825.3L1128.6 823L1129.4 822.4L1132.5 821.1L1133.4 820.5L1137.3 818.9L1137.9 818.4L1140.4 817.5L1141.2 817L1148.1 814.3M978.2 880L972.4 881L966.3 881.8L958.8 882.8L949 883.8L943.8 884.2L939.2 884.5L935 884.7L931 884.7L927.1 884.5L923.3 884.1L919.7 883.5L916.2 882.8L912.9 881.9L909.7 880.8L906.8 879.5L904.1 878.1L901.4 876.4L898.9 874.4L896.7 872.1L894.7 869.6L892.8 866.8L891.2 863.8L889.9 860.4L888.8 857L888.4 855L888 852.9L887.6 848.7L887.6 843.9L888 838.3L888.5 834.9L888.8 833.6L889.2 832.4L889.8 831.2L890.4 830.2L891 829.6L891.5 829.4M891.5 829.4L891.9 829.4L892.3 829.5L893 829.9L893.7 830.6L894.2 831.5L894.6 832.8L895.9 838L896.8 841.5L897.7 844.4L898.6 847L899.8 849.8L901.1 852.3L902.5 854.9L904.2 857.4L906 859.8L908.1 862.2L910.2 864.4L912.4 866.4L914.7 868.3L917.2 870L919.7 871.6L922.2 872.8L924.6 873.9L927.2 874.8L929.9 875.6L932.7 876.2L935.6 876.7L938.8 877.1L942.2 877.3L946.2 877.5L951 877.5L955.8 877.5L960.8 877.3L965.8 877L970.8 876.5L975.9 876L981.3 875.3L986.6 874.5M1020.3 867.5L1024.4 866.7" fill="none" stroke="#000" stroke-width="1.55" stroke-linejoin="round" stroke-linecap="butt"/><path d="M1026 867H1031.8M1034.2 864.9H1037.8" fill="none" stroke="#000" stroke-width="2"/><circle cx="1150.9" cy="812.9" r="0.55" fill="#000"/><text transform="translate(1004.3 873.4) rotate(-18.0)" x="0" y="6.1" text-anchor="middle" font-size="16.67" stroke="#fff" stroke-width="5.56" stroke-linejoin="round" paint-order="stroke" fill="#000">50%</text><text transform="translate(1080.1 844.2) rotate(-29.0)" x="0" y="6.1" text-anchor="middle" font-size="16.67" stroke="#fff" stroke-width="5.56" stroke-linejoin="round" paint-order="stroke" fill="#000">90%</text>
<ellipse cx="820.0" cy="606.0" rx="620.0" ry="310.0" fill="none" stroke="#000" stroke-width="2.22"/>
<path d="M355.0 606.0v10.4M510.0 606.0v10.4M665.0 606.0v10.4M820.0 606.0v10.4M975.0 606.0v10.4M1130.0 606.0v10.4M1285.0 606.0v10.4" fill="none" stroke="#000" stroke-width="2.78"/>
<path d="M252.84 731.23h-9.7M418.78 842.34h-9.7" fill="none" stroke="#000" stroke-width="2.1"/>
<g font-size="27.78" fill="#000"><text x="373.3" y="348" text-anchor="start">60°</text><text x="1217.3" y="348" text-anchor="start">60°</text><text x="184.5" y="473" text-anchor="start">30°</text><text x="1396.5" y="463" text-anchor="start">30°</text><text x="149.5" y="613.5" text-anchor="start">0°</text><text x="1454.3" y="586.5" text-anchor="start">0°</text><text x="161" y="753" text-anchor="start">−30°</text><text x="1405.5" y="753" text-anchor="start">−30°</text><text x="355" y="878" text-anchor="start">−60°</text><text x="1212" y="878" text-anchor="start">−60°</text><text x="200.4" y="648.5" text-anchor="middle">0<tspan dy="-10.5" font-size="19.45">h</tspan></text><text x="355.4" y="648.5" text-anchor="middle">21<tspan dy="-10.5" font-size="19.45">h</tspan></text><text x="510.4" y="648.5" text-anchor="middle">18<tspan dy="-10.5" font-size="19.45">h</tspan></text><text x="665.4" y="648.5" text-anchor="middle">15<tspan dy="-10.5" font-size="19.45">h</tspan></text><text x="820.4" y="648.5" text-anchor="middle">12<tspan dy="-10.5" font-size="19.45">h</tspan></text><text x="975.4" y="648.5" text-anchor="middle">9<tspan dy="-10.5" font-size="19.45">h</tspan></text><text x="1130.4" y="648.5" text-anchor="middle">6<tspan dy="-10.5" font-size="19.45">h</tspan></text><text x="1285.4" y="648.5" text-anchor="middle">3<tspan dy="-10.5" font-size="19.45">h</tspan></text><text x="1440.4" y="648.5" text-anchor="middle">0<tspan dy="-10.5" font-size="19.45">h</tspan></text></g>
<g font-size="27.78" fill="#000"><text x="1440" y="198.5" text-anchor="end">event ID: G184098</text><text x="1440" y="230.8" text-anchor="end">instruments: L1, H1</text><text x="1440" y="263.6" text-anchor="end">50% area: 87.5 deg²</text><text x="1440" y="295.9" text-anchor="end">90% area: 398 deg²</text></g>
</svg>
</body></html>
